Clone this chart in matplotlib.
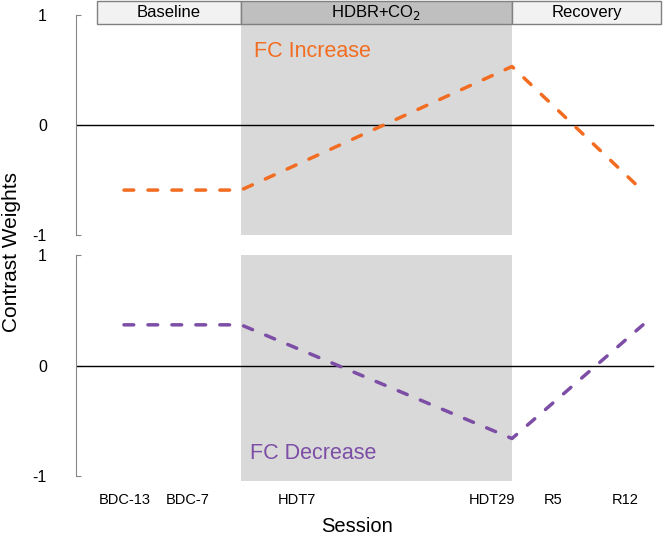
import matplotlib.pyplot as plt
from matplotlib.patches import Rectangle

plt.rcParams['font.family'] = ['Liberation Sans', 'DejaVu Sans']

# session labels and where they sit on the x axis
sessions = ['BDC-13', 'BDC-7', 'HDT7', 'HDT29', 'R5', 'R12']
session_x = [48.5, 112, 221, 416, 477, 549]

# contrast weight lines (breakpoints)
line_x = [48, 165, 436, 567]
fc_increase = [-0.59, -0.59, 0.53, -0.60]
fc_decrease = [0.37, 0.37, -0.66, 0.37]

# study phases
phases = ['Baseline', 'HDBR+CO$_2$', 'Recovery']
phase_edges = [21, 165, 436, 585]
phase_colors = ['#f2f2f2', '#bfbfbf', '#f2f2f2']

orange = '#f26d21'
purple = '#7d4ea6'
shade = '#d9d9d9'

fig = plt.figure(figsize=(6.69, 5.37), dpi=100)
ax1 = fig.add_axes([76/669, 1-235.3/537, 580/669, 235.3/537])
ax2 = fig.add_axes([76/669, 1-481/537, 580/669, (481-255.3)/537])

header_lo = 0.916
ax1.set_ylim(-1, 1.133)
ax2.set_ylim(-1.045, 1)

for ax in (ax1, ax2):
	ax.set_xlim(0, 580)
	for s in ['top', 'right', 'bottom']:
		ax.spines[s].set_visible(False)
	ax.spines['left'].set_bounds(-1, 1)
	ax.spines['left'].set_color('#888888')
	ax.set_yticks([-1, 0, 1], ['-1', '0', '1'])
	ax.tick_params(axis='y', direction='in', length=3.6, color='#888888', pad=21, labelsize=11.5)
	ax.axhline(0, xmin=0, xmax=577/580, color='black', lw=1, zorder=2)

ax1.add_patch(Rectangle((phase_edges[1], -1), phase_edges[2]-phase_edges[1], header_lo+1,
	facecolor=shade, edgecolor='none', zorder=0))
ax2.add_patch(Rectangle((phase_edges[1], -1.045), phase_edges[2]-phase_edges[1], 2.045,
	facecolor=shade, edgecolor='none', zorder=0))

# header boxes
for i in range(len(phases)):
	ax1.add_patch(Rectangle((phase_edges[i], header_lo), phase_edges[i+1]-phase_edges[i], 1.125-header_lo,
		facecolor=phase_colors[i], edgecolor='#808080', lw=1, clip_on=False, zorder=3))
	ax1.text((phase_edges[i]+phase_edges[i+1])/2, (header_lo+1.125)/2, phases[i],
		ha='center', va='center', fontsize=12, zorder=4, clip_on=False)

ax1.plot(line_x, fc_increase, color=orange, lw=2.5, linestyle=(0, (2.8, 4.1)),
	dash_capstyle='round', zorder=3)
ax2.plot(line_x, fc_decrease, color=purple, lw=2.5, linestyle=(0, (2.8, 4.1)),
	dash_capstyle='round', zorder=3)

ax1.text(178, 0.67, 'FC Increase', color=orange, fontsize=15.5, va='center', ha='left')
ax2.text(174, -0.80, 'FC Decrease', color=purple, fontsize=15.5, va='center', ha='left')

ax1.set_xticks([])
ax2.set_xticks(session_x, sessions)
ax2.tick_params(axis='x', length=0, pad=8.6, labelsize=10.5)

fig.text(12/669, 1-252/537, 'Contrast Weights', rotation=90, ha='center', va='center', fontsize=15)
fig.text(357/669, 1-526/537, 'Session', ha='center', va='center', fontsize=14.5)

fig.savefig('out.png', dpi=100)
